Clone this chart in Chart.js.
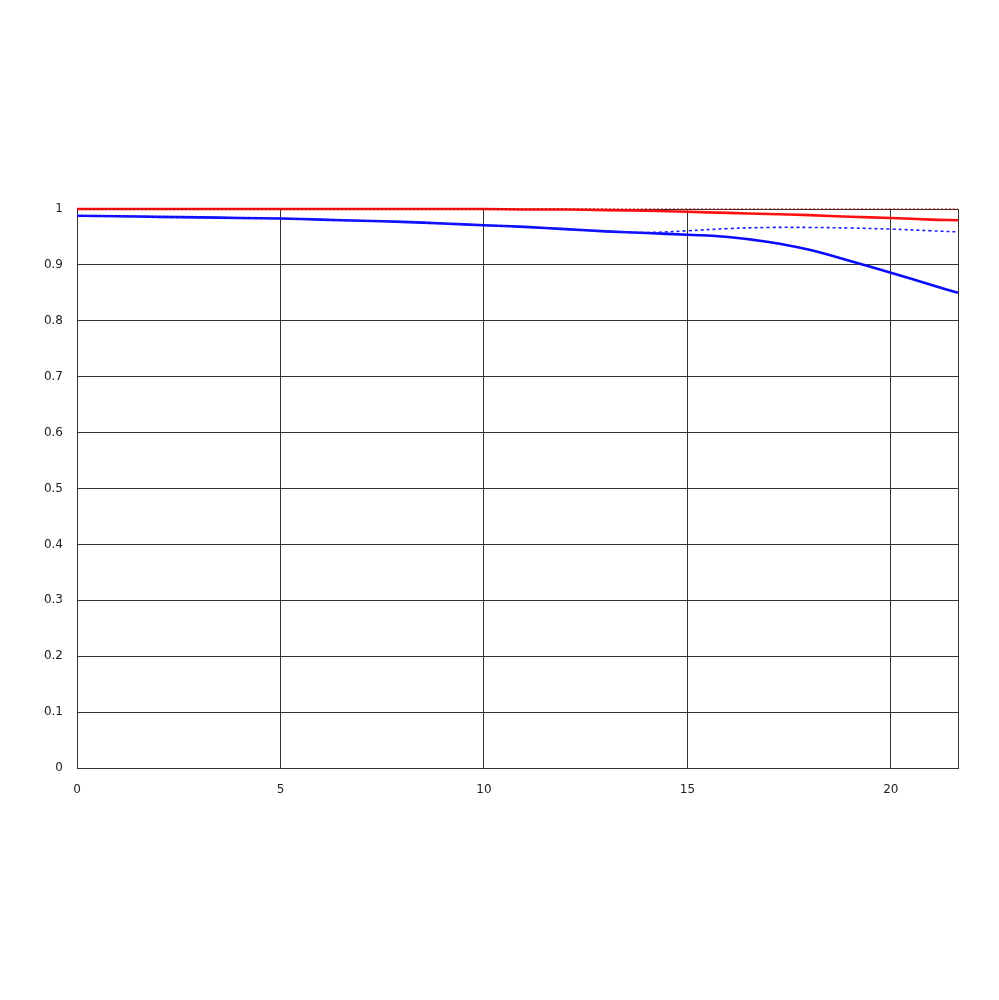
<!DOCTYPE html>
<html>
<head>
<meta charset="utf-8">
<script src="https://cdn.jsdelivr.net/npm/chart.js@4"></script>
<style>
  html, body { margin: 0; padding: 0; background: #fff; }
  #wrap { width: 999px; height: 1000px; }
</style>
</head>
<body>
<div id="wrap"><canvas id="mtf"></canvas></div>
<script>
// image height (mm) positions
const positions = [0, 1, 2, 3, 4, 5, 6, 7, 8, 9, 10, 11, 12, 13, 14, 15, 16, 17, 18, 19, 20, 21, 21.65];

// contrast values
const redSolid   = [1.0, 1.0, 1.0, 1.0, 1.0, 1.0, 1.0, 1.0, 1.0, 1.0, 1.0, 0.999, 0.999, 0.998, 0.997, 0.995, 0.993, 0.991, 0.989, 0.986, 0.984, 0.981, 0.980];
const redDashed  = [1.0, 1.0, 1.0, 1.0, 1.0, 1.0, 1.0, 1.0, 1.0, 1.0, 1.0, 1.0, 1.0, 1.0, 1.0, 1.0, 1.0, 1.0, 1.0, 1.0, 1.0, 1.0, 1.0];
const blueSolid  = [0.988, 0.987, 0.986, 0.985, 0.984, 0.983, 0.981, 0.979, 0.977, 0.974, 0.971, 0.968, 0.964, 0.960, 0.957, 0.954, 0.950, 0.941, 0.927, 0.907, 0.886, 0.864, 0.850];
const blueDashed = [0.988, 0.987, 0.986, 0.985, 0.984, 0.983, 0.981, 0.979, 0.977, 0.974, 0.971, 0.968, 0.964, 0.960, 0.958, 0.961, 0.965, 0.967, 0.967, 0.966, 0.964, 0.961, 0.959];

const xTicks = [0, 5, 10, 15, 20];

const toPoints = vals => vals.map((v, i) => ({ x: positions[i], y: v }));

const line = (label, vals, color, width, dash) => ({
  label,
  data: toPoints(vals),
  borderColor: color,
  borderWidth: width,
  borderDash: dash,
  showLine: true,
  pointRadius: 0,
  tension: 0.4,
  clip: 4,
  fill: false
});

const ctx = document.getElementById('mtf').getContext('2d');
new Chart(ctx, {
  type: 'scatter',
  data: {
    datasets: [
      line('Blue dashed', blueDashed, '#1a1aff', 1.6, [3, 3]),
      line('Blue solid', blueSolid, '#0a0aff', 2.6, []),
      line('Red dashed', redDashed, '#b40000', 1.2, [2, 2]),
      line('Red solid', redSolid, '#ff1010', 2.6, [])
    ]
  },
  options: {
    responsive: true,
    maintainAspectRatio: false,
    animation: false,
    layout: { padding: { top: 209, right: 41, left: 0, bottom: 0 } },
    plugins: {
      legend: { display: false },
      tooltip: { enabled: false }
    },
    scales: {
      x: {
        type: 'linear',
        min: 0,
        max: 21.65,
        afterFit: s => { s.height = 232; },
        afterBuildTicks: s => {
          s.ticks = xTicks.map(v => ({ value: v })).concat([{ value: 21.65 }]);
        },
        ticks: {
          color: '#222',
          padding: 15,
          maxRotation: 0,
          autoSkip: false,
          font: { family: 'DejaVu Sans', size: 12 },
          callback: v => (xTicks.includes(v) ? String(v) : '')
        },
        grid: { color: '#333', lineWidth: 1, drawTicks: false },
        border: { color: '#333', width: 1 }
      },
      y: {
        min: 0,
        max: 1,
        afterFit: s => { s.width = 77; },
        ticks: {
          stepSize: 0.1,
          color: '#222',
          padding: 14,
          font: { family: 'DejaVu Sans', size: 12 },
          callback: v => String(Math.round(v * 10) / 10)
        },
        grid: { color: '#333', lineWidth: 1, drawTicks: false },
        border: { color: '#333', width: 1 }
      }
    }
  }
});
</script>
</body>
</html>
